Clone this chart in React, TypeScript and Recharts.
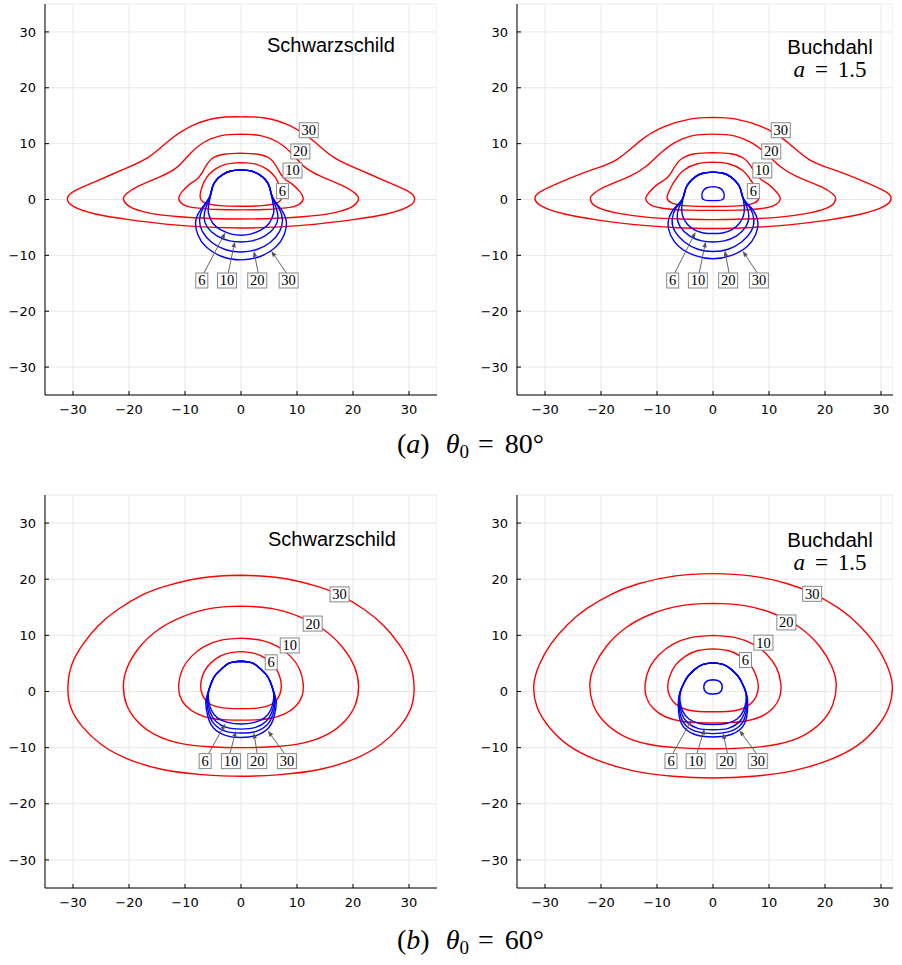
import React from 'react'
import {
  ComposedChart,
  Line,
  XAxis,
  YAxis,
  CartesianGrid,
  ReferenceDot,
  ReferenceLine,
} from 'recharts'

type Pt = [number, number]
type Tag = [number, number, string]
type Arrow = [number, number, number, number]

const axisTicks = [-30, -20, -10, 0, 10, 20, 30]

// (a) theta0 = 80deg, Schwarzschild — direct images (red)
const sch80Red30: Pt[] = [[0,14.8],[4.3,14.6],[8.8,13.2],[12.8,10.6],[16.5,7.6],[21,5.4],[26,3.2],[29.8,1.5],[31,0.2],[30,-1.2],[26,-2.6],[20,-3.6],[13.5,-4.4],[7,-4.9],[0,-5.1],[-7,-4.9],[-13.5,-4.4],[-20,-3.6],[-26,-2.6],[-30,-1.2],[-31,0.2],[-29.8,1.5],[-26,3.2],[-21,5.4],[-16.5,7.6],[-12.8,10.6],[-8.8,13.2],[-4.3,14.6],[0,14.8]]
const sch80Red20: Pt[] = [[0,11.7],[3.7,11.4],[6.7,10.2],[9.1,8.2],[11.4,5.8],[14.4,4.1],[18.5,2.3],[20.5,1.0],[21,0.2],[20,-1.2],[16.5,-2.4],[11,-3.1],[5.5,-3.4],[0,-3.5],[-5.5,-3.4],[-11,-3.1],[-16.5,-2.4],[-20,-1.2],[-21,0.2],[-20.5,1.0],[-18.5,2.3],[-14.4,4.1],[-11.4,5.8],[-9.1,8.2],[-6.7,10.2],[-3.7,11.4],[0,11.7]]
const sch80Red10: Pt[] = [[0,8.3],[3,8.1],[5.2,7.3],[6.5,5.6],[7.6,3.9],[9.2,2.7],[10.5,1.4],[11.1,0.2],[10.3,-0.9],[8,-1.5],[4,-1.8],[0,-1.85],[-4,-1.8],[-8,-1.5],[-10.3,-0.9],[-11.1,0.2],[-10.5,1.4],[-9.2,2.7],[-7.6,3.9],[-6.5,5.6],[-5.2,7.3],[-3,8.1],[0,8.3]]
const sch80Red6: Pt[] = [[0,6.6],[2.8,6.3],[4.8,5.3],[6.1,4.0],[6.9,2.4],[7.3,0.8],[7.1,-0.1],[6.2,-0.7],[3.8,-1.1],[0,-1.2],[-3.8,-1.1],[-6.2,-0.7],[-7.1,-0.1],[-7.3,0.8],[-6.9,2.4],[-6.1,4.0],[-4.8,5.3],[-2.8,6.3],[0,6.6]]
// secondary images (blue)
const sch80Blue6: Pt[] = [[0,5.3],[1.8,5.1],[3.2,4.5],[4.4,3.5],[5.1,2.2],[5.5,0.6],[5.8,-1.3],[5.8,-2.5],[5.0,-4.3],[3.5,-5.5],[1.7,-6.2],[0,-6.4],[-1.7,-6.2],[-3.5,-5.5],[-5.0,-4.3],[-5.8,-2.5],[-5.8,-1.3],[-5.5,0.6],[-5.1,2.2],[-4.4,3.5],[-3.2,4.5],[-1.8,5.1],[0,5.3]]
const sch80Blue10: Pt[] = [[0,5.3],[1.8,5.1],[3.2,4.5],[4.4,3.5],[5.1,2.2],[5.5,0.5],[6.2,-1.3],[6.6,-3.1],[6.05,-4.9],[4.3,-6.5],[2.0,-7.4],[0,-7.6],[-2.0,-7.4],[-4.3,-6.5],[-6.05,-4.9],[-6.6,-3.1],[-6.2,-1.3],[-5.5,0.5],[-5.1,2.2],[-4.4,3.5],[-3.2,4.5],[-1.8,5.1],[0,5.3]]
const sch80Blue20: Pt[] = [[0,5.3],[1.8,5.1],[3.2,4.5],[4.4,3.5],[5.1,2.2],[5.6,0.4],[6.8,-1.6],[7.4,-3.6],[6.9,-5.7],[5.2,-7.7],[2.7,-9.0],[0,-9.4],[-2.7,-9.0],[-5.2,-7.7],[-6.9,-5.7],[-7.4,-3.6],[-6.8,-1.6],[-5.6,0.4],[-5.1,2.2],[-4.4,3.5],[-3.2,4.5],[-1.8,5.1],[0,5.3]]
const sch80Blue30: Pt[] = [[0,5.3],[1.8,5.1],[3.2,4.5],[4.4,3.5],[5.1,2.2],[5.7,0.3],[7.2,-1.8],[8.1,-4.0],[7.7,-6.3],[6.3,-8.4],[3.4,-10.2],[0,-10.8],[-3.4,-10.2],[-6.3,-8.4],[-7.7,-6.3],[-8.1,-4.0],[-7.2,-1.8],[-5.7,0.3],[-5.1,2.2],[-4.4,3.5],[-3.2,4.5],[-1.8,5.1],[0,5.3]]
const sch80RedTags: Tag[] = [[12.1,12.4,'30'],[10.6,8.6,'20'],[9.2,5.2,'10'],[7.4,1.5,'6']]
const sch80BlueTags: Tag[] = [[-7.0,-14.5,'6'],[-2.5,-14.5,'10'],[2.9,-14.5,'20'],[8.5,-14.5,'30']]
const sch80Arrows: Arrow[] = [[-6.7,-13.3,-2.8,-5.9],[-2.3,-13.3,-1.1,-7.5],[3.1,-13.3,2.3,-9.2],[8.2,-13.3,5.4,-9.2]]

// (a) theta0 = 80deg, Buchdahl a = 1.5
const buch80Red30: Pt[] = [[0,14.7],[4.1,14.4],[8.8,13.0],[13,10.5],[17.1,7.2],[21.9,5.2],[27.2,3.1],[30.8,1.4],[31.8,0.2],[30.6,-1.2],[26.5,-2.6],[20.5,-3.7],[14,-4.5],[7,-5.0],[0,-5.2],[-7,-5.0],[-14,-4.5],[-20.5,-3.7],[-26.5,-2.6],[-30.6,-1.2],[-31.8,0.2],[-30.8,1.4],[-27.2,3.1],[-21.9,5.2],[-17.1,7.2],[-13,10.5],[-8.8,13.0],[-4.1,14.4],[0,14.7]]
const buch80Red20: Pt[] = [[0,11.7],[3.8,11.4],[7,10.1],[9.5,8.2],[12,5.9],[15,4.1],[19.3,2.3],[21.4,1.0],[21.9,0.2],[21,-1.2],[17.3,-2.4],[11.5,-3.2],[5.8,-3.5],[0,-3.6],[-5.8,-3.5],[-11.5,-3.2],[-17.3,-2.4],[-21,-1.2],[-21.9,0.2],[-21.4,1.0],[-19.3,2.3],[-15,4.1],[-12,5.9],[-9.5,8.2],[-7,10.1],[-3.8,11.4],[0,11.7]]
const buch80Red10: Pt[] = [[0,8.4],[3.2,8.2],[5.6,7.3],[7.0,5.6],[8.2,3.9],[9.9,2.7],[11.3,1.4],[12,0.2],[11.2,-0.9],[8.7,-1.6],[4.4,-1.9],[0,-1.95],[-4.4,-1.9],[-8.7,-1.6],[-11.2,-0.9],[-12,0.2],[-11.3,1.4],[-9.9,2.7],[-8.2,3.9],[-7.0,5.6],[-5.6,7.3],[-3.2,8.2],[0,8.4]]
const buch80Red6: Pt[] = [[0,6.7],[2.8,6.4],[5.3,5.2],[6.5,3.8],[7.3,2.6],[8.0,1.1],[8.2,0.3],[7.4,-0.6],[4.5,-1.15],[0,-1.25],[-4.5,-1.15],[-7.4,-0.6],[-8.2,0.3],[-8.0,1.1],[-7.3,2.6],[-6.5,3.8],[-5.3,5.2],[-2.8,6.4],[0,6.7]]
const buch80Blue6: Pt[] = [[0,4.9],[1.8,4.7],[3.1,4.1],[4.2,3.1],[4.9,1.9],[5.3,0.5],[5.5,-0.6],[5.6,-1.8],[5.4,-3.0],[4.7,-4.3],[3.4,-5.4],[1.7,-6.0],[0,-6.1],[-1.7,-6.0],[-3.4,-5.4],[-4.7,-4.3],[-5.4,-3.0],[-5.6,-1.8],[-5.5,-0.6],[-5.3,0.5],[-4.9,1.9],[-4.2,3.1],[-3.1,4.1],[-1.8,4.7],[0,4.9]]
const buch80Blue10: Pt[] = [[0,4.9],[1.8,4.7],[3.1,4.1],[4.2,3.1],[4.9,1.9],[5.3,0.4],[6.0,-1.2],[6.4,-3.0],[5.9,-4.8],[4.2,-6.5],[2.0,-7.4],[0,-7.6],[-2.0,-7.4],[-4.2,-6.5],[-5.9,-4.8],[-6.4,-3.0],[-6.0,-1.2],[-5.3,0.4],[-4.9,1.9],[-4.2,3.1],[-3.1,4.1],[-1.8,4.7],[0,4.9]]
const buch80Blue20: Pt[] = [[0,4.9],[1.8,4.7],[3.1,4.1],[4.2,3.1],[4.9,1.9],[5.4,0.2],[6.6,-1.5],[7.3,-3.6],[6.8,-5.7],[5.1,-7.6],[2.7,-8.9],[0,-9.3],[-2.7,-8.9],[-5.1,-7.6],[-6.8,-5.7],[-7.3,-3.6],[-6.6,-1.5],[-5.4,0.2],[-4.9,1.9],[-4.2,3.1],[-3.1,4.1],[-1.8,4.7],[0,4.9]]
const buch80Blue30: Pt[] = [[0,4.9],[1.8,4.7],[3.1,4.1],[4.2,3.1],[4.9,1.9],[5.5,0],[7.0,-1.7],[8.0,-4.0],[7.6,-6.3],[6.1,-8.4],[3.3,-10.0],[0,-10.6],[-3.3,-10.0],[-6.1,-8.4],[-7.6,-6.3],[-8.0,-4.0],[-7.0,-1.7],[-5.5,0],[-4.9,1.9],[-4.2,3.1],[-3.1,4.1],[-1.8,4.7],[0,4.9]]
const buch80BlueInner: Pt[] = [[0,2.3],[1.1,2.1],[1.8,1.5],[2.0,0.6],[1.7,0],[0.9,-0.2],[0,-0.2],[-0.9,-0.2],[-1.7,0],[-2.0,0.6],[-1.8,1.5],[-1.1,2.1],[0,2.3]]
const buch80RedTags: Tag[] = [[12.1,12.4,'30'],[10.4,8.6,'20'],[8.8,5.2,'10'],[7.2,1.5,'6']]
const buch80BlueTags: Tag[] = [[-7.2,-14.5,'6'],[-2.7,-14.5,'10'],[2.7,-14.5,'20'],[8.2,-14.5,'30']]
const buch80Arrows: Arrow[] = [[-6.9,-13.3,-3.1,-5.8],[-2.5,-13.3,-1.3,-7.5],[2.9,-13.3,2.1,-9.1],[8.0,-13.3,5.3,-9.2]]

// (b) theta0 = 60deg, Schwarzschild
const sch60Red30: Pt[] = [[0,20.7],[6.5,20.3],[13,18.9],[17.6,17.2],[22,14.6],[25.5,11.7],[28.3,8.3],[30.2,4.8],[30.9,1],[30.4,-2.8],[28.3,-6.3],[25,-9.4],[20.5,-11.9],[14,-13.9],[7,-14.8],[0,-15.1],[-7,-14.8],[-14,-13.9],[-20.5,-11.9],[-25,-9.4],[-28.3,-6.3],[-30.4,-2.8],[-30.9,1],[-30.2,4.8],[-28.3,8.3],[-25.5,11.7],[-22,14.6],[-17.6,17.2],[-13,18.9],[-6.5,20.3],[0,20.7]]
const sch60Red20: Pt[] = [[0,15.2],[5.4,14.8],[10.5,13.3],[14.8,11.0],[18.2,7.8],[20.3,4.3],[21,0.9],[20.4,-2.4],[18.6,-5.2],[15.5,-7.6],[11,-9.2],[5.6,-9.85],[0,-10.0],[-5.6,-9.85],[-11,-9.2],[-15.5,-7.6],[-18.6,-5.2],[-20.4,-2.4],[-21,0.9],[-20.3,4.3],[-18.2,7.8],[-14.8,11.0],[-10.5,13.3],[-5.4,14.8],[0,15.2]]
const sch60Red10: Pt[] = [[0,9.5],[3.7,9.1],[6.6,8.0],[8.8,6.3],[10.4,4.1],[11.1,1.5],[10.9,-0.8],[9.8,-2.6],[7.8,-4.0],[5.2,-4.8],[2.6,-5.05],[0,-5.1],[-2.6,-5.05],[-5.2,-4.8],[-7.8,-4.0],[-9.8,-2.6],[-10.9,-0.8],[-11.1,1.5],[-10.4,4.1],[-8.8,6.3],[-6.6,8.0],[-3.7,9.1],[0,9.5]]
const sch60Red6: Pt[] = [[0,7.1],[2.4,6.8],[4.4,5.9],[6,4.4],[6.9,2.7],[7.2,1.0],[6.9,-0.6],[6,-1.9],[4.4,-2.7],[2.3,-3.0],[0,-3.05],[-2.3,-3.0],[-4.4,-2.7],[-6,-1.9],[-6.9,-0.6],[-7.2,1.0],[-6.9,2.7],[-6,4.4],[-4.4,5.9],[-2.4,6.8],[0,7.1]]
const sch60Blue6: Pt[] = [[0,5.4],[2.0,5.1],[3.4,4.1],[4.5,3.0],[5.2,1.8],[5.75,0.1],[5.8,-1.5],[5.3,-3.3],[4.2,-4.7],[2.4,-5.5],[0,-5.8],[-2.4,-5.5],[-4.2,-4.7],[-5.3,-3.3],[-5.8,-1.5],[-5.75,0.1],[-5.2,1.8],[-4.5,3.0],[-3.4,4.1],[-2.0,5.1],[0,5.4]]
const sch60Blue10: Pt[] = [[0,5.4],[2.0,5.1],[3.4,4.1],[4.5,3.0],[5.2,1.8],[5.8,0],[5.95,-1.7],[5.5,-3.7],[4.5,-5.3],[2.6,-6.4],[0,-6.7],[-2.6,-6.4],[-4.5,-5.3],[-5.5,-3.7],[-5.95,-1.7],[-5.8,0],[-5.2,1.8],[-4.5,3.0],[-3.4,4.1],[-2.0,5.1],[0,5.4]]
const sch60Blue20: Pt[] = [[0,5.4],[2.0,5.1],[3.4,4.1],[4.5,3.0],[5.2,1.8],[5.85,-0.1],[6.1,-1.9],[5.7,-4.1],[4.7,-5.9],[2.7,-7.1],[0,-7.4],[-2.7,-7.1],[-4.7,-5.9],[-5.7,-4.1],[-6.1,-1.9],[-5.85,-0.1],[-5.2,1.8],[-4.5,3.0],[-3.4,4.1],[-2.0,5.1],[0,5.4]]
const sch60Blue30: Pt[] = [[0,5.4],[2.0,5.1],[3.4,4.1],[4.5,3.0],[5.2,1.8],[5.9,-0.2],[6.3,-2.0],[5.9,-4.5],[4.9,-6.5],[2.8,-7.8],[0,-8.2],[-2.8,-7.8],[-4.9,-6.5],[-5.9,-4.5],[-6.3,-2.0],[-5.9,-0.2],[-5.2,1.8],[-4.5,3.0],[-3.4,4.1],[-2.0,5.1],[0,5.4]]
const sch60RedTags: Tag[] = [[17.6,17.3,'30'],[12.8,12.1,'20'],[8.7,8.2,'10'],[5.4,5.2,'6']]
const sch60BlueTags: Tag[] = [[-6.4,-12.4,'6'],[-1.8,-12.4,'10'],[2.9,-12.4,'20'],[8.2,-12.4,'30']]
const sch60Arrows: Arrow[] = [[-5.8,-11.1,-2.8,-5.7],[-2.0,-11.1,-0.9,-7.0],[2.9,-11.1,2.3,-7.3],[7.8,-11.1,4.8,-7.0]]

// (b) theta0 = 60deg, Buchdahl a = 1.5
const buch60Red30: Pt[] = [[0,21],[6.7,20.6],[13.3,19.2],[18,17.4],[22.5,14.8],[26,11.9],[29,8.4],[31,4.8],[32,1.2],[31.4,-2.8],[29.2,-6.4],[25.8,-9.6],[21,-12.1],[14.4,-14.1],[7.2,-15.1],[0,-15.4],[-7.2,-15.1],[-14.4,-14.1],[-21,-12.1],[-25.8,-9.6],[-29.2,-6.4],[-31.4,-2.8],[-32,1.2],[-31,4.8],[-29,8.4],[-26,11.9],[-22.5,14.8],[-18,17.4],[-13.3,19.2],[-6.7,20.6],[0,21]]
const buch60Red20: Pt[] = [[0,15.7],[5.7,15.3],[11,13.8],[15.5,11.4],[19,8.1],[21.2,4.5],[22,1.2],[21.4,-2.3],[19.5,-5.3],[16.2,-7.8],[11.5,-9.4],[5.8,-10.05],[0,-10.2],[-5.8,-10.05],[-11.5,-9.4],[-16.2,-7.8],[-19.5,-5.3],[-21.4,-2.3],[-22,1.2],[-21.2,4.5],[-19,8.1],[-15.5,11.4],[-11,13.8],[-5.7,15.3],[0,15.7]]
const buch60Red10: Pt[] = [[0,10],[4,9.6],[7.2,8.4],[9.6,6.6],[11.3,4.3],[12.1,1.5],[11.9,-1.0],[10.7,-3.0],[8.5,-4.5],[5.6,-5.3],[2.8,-5.55],[0,-5.6],[-2.8,-5.55],[-5.6,-5.3],[-8.5,-4.5],[-10.7,-3.0],[-11.9,-1.0],[-12.1,1.5],[-11.3,4.3],[-9.6,6.6],[-7.2,8.4],[-4,9.6],[0,10]]
const buch60Red6: Pt[] = [[0,7.6],[2.7,7.3],[4.9,6.3],[6.7,4.7],[7.7,2.8],[8.1,0.9],[7.7,-0.9],[6.6,-2.3],[4.8,-3.2],[2.5,-3.55],[0,-3.6],[-2.5,-3.55],[-4.8,-3.2],[-6.6,-2.3],[-7.7,-0.9],[-8.1,0.9],[-7.7,2.8],[-6.7,4.7],[-4.9,6.3],[-2.7,7.3],[0,7.6]]
const buch60Blue6: Pt[] = [[0,5.1],[1.9,4.8],[3.3,3.9],[4.4,2.8],[5.1,1.7],[5.8,0],[5.9,-1.7],[5.4,-3.5],[4.3,-4.9],[2.4,-5.7],[0,-5.9],[-2.4,-5.7],[-4.3,-4.9],[-5.4,-3.5],[-5.9,-1.7],[-5.8,0],[-5.1,1.7],[-4.4,2.8],[-3.3,3.9],[-1.9,4.8],[0,5.1]]
const buch60Blue10: Pt[] = [[0,5.1],[1.9,4.8],[3.3,3.9],[4.4,2.8],[5.1,1.7],[5.85,-0.1],[6.0,-1.9],[5.6,-3.9],[4.6,-5.5],[2.6,-6.6],[0,-6.8],[-2.6,-6.6],[-4.6,-5.5],[-5.6,-3.9],[-6.0,-1.9],[-5.85,-0.1],[-5.1,1.7],[-4.4,2.8],[-3.3,3.9],[-1.9,4.8],[0,5.1]]
const buch60Blue20: Pt[] = [[0,5.1],[1.9,4.8],[3.3,3.9],[4.4,2.8],[5.1,1.7],[5.9,-0.2],[6.1,-2.1],[5.8,-4.3],[4.8,-6.1],[2.7,-7.2],[0,-7.5],[-2.7,-7.2],[-4.8,-6.1],[-5.8,-4.3],[-6.1,-2.1],[-5.9,-0.2],[-5.1,1.7],[-4.4,2.8],[-3.3,3.9],[-1.9,4.8],[0,5.1]]
const buch60Blue30: Pt[] = [[0,5.1],[1.9,4.8],[3.3,3.9],[4.4,2.8],[5.1,1.7],[5.95,-0.3],[6.2,-2.2],[6.0,-4.6],[5.0,-6.6],[2.8,-7.8],[0,-8.1],[-2.8,-7.8],[-5.0,-6.6],[-6.0,-4.6],[-6.2,-2.2],[-5.95,-0.3],[-5.1,1.7],[-4.4,2.8],[-3.3,3.9],[-1.9,4.8],[0,5.1]]
const buch60BlueInner: Pt[] = [[0,2.1],[1.1,1.85],[1.65,0.8],[1.1,-0.25],[0,-0.45],[-1.1,-0.25],[-1.65,0.8],[-1.1,1.85],[0,2.1]]
const buch60RedTags: Tag[] = [[17.7,17.4,'30'],[13.1,12.3,'20'],[9.0,8.7,'10'],[5.8,5.6,'6']]
const buch60BlueTags: Tag[] = [[-7.5,-12.4,'6'],[-3.1,-12.4,'10'],[2.4,-12.4,'20'],[8.0,-12.4,'30']]
const buch60Arrows: Arrow[] = [[-7.2,-11.1,-3.8,-5.0],[-2.9,-11.1,-1.5,-6.6],[2.6,-11.1,1.8,-7.4],[7.8,-11.1,4.7,-6.9]]

const RED = '#ff0000'
const BLUE = '#0000ff'

const rows = (pts: Pt[]) => pts.map(([x, y]) => ({ x, y }))
const fmt = (v: number) => (v < 0 ? '\u2212' + Math.abs(v) : String(v))
const tickStyle = { fill: '#000', fontSize: 13, fontFamily: 'DejaVu Sans, sans-serif' }

const tagShape = (text: string) => (props: any) => {
  const { cx, cy } = props
  const w = text.length > 1 ? 19 : 12
  return (
    <g>
      <rect x={cx - w / 2} y={cy - 7.5} width={w} height={15} fill="#fff" stroke="#888" strokeWidth={1} />
      <text x={cx} y={cy + 5} textAnchor="middle" fontFamily="Liberation Serif, serif" fontSize={14.5} fill="#000">
        {text}
      </text>
    </g>
  )
}

const arrowShape = (props: any) => {
  const { x1, y1, x2, y2 } = props
  const a = Math.atan2(y2 - y1, x2 - x1)
  const bx = x2 - 6 * Math.cos(a)
  const by = y2 - 6 * Math.sin(a)
  const nx = 2.2 * Math.sin(a)
  const ny = 2.2 * Math.cos(a)
  return (
    <g>
      <line x1={x1} y1={y1} x2={bx} y2={by} stroke="#555" strokeWidth={0.9} />
      <polygon points={`${x2},${y2} ${bx + nx},${by - ny} ${bx - nx},${by + ny}`} fill="#555" />
    </g>
  )
}

interface PanelProps {
  left: number
  top: number
  width: number
  height: number
  xDomain: [number, number]
  red: Pt[][]
  blue: Pt[][]
  redTags: Tag[]
  blueTags: Tag[]
  arrows: Arrow[]
}

function Panel({ left, top, width, height, xDomain, red, blue, redTags, blueTags, arrows }: PanelProps) {
  return (
    <div style={{ position: 'absolute', left, top }}>
      <ComposedChart width={width} height={height} margin={{ top: 4, right: 0, bottom: 0, left: 0 }}>
        <CartesianGrid stroke="#e8e8e8" />
        <XAxis
          type="number"
          dataKey="x"
          domain={xDomain}
          ticks={axisTicks}
          interval={0}
          allowDataOverflow
          height={30}
          stroke="#000"
          tickSize={-4}
          tickMargin={14}
          tick={tickStyle}
          tickFormatter={fmt}
        />
        <YAxis
          type="number"
          dataKey="y"
          domain={[-35, 35]}
          ticks={axisTicks}
          interval={0}
          allowDataOverflow
          width={37}
          stroke="#000"
          tickSize={-4}
          tickMargin={13}
          tick={tickStyle}
          tickFormatter={fmt}
        />
        {red.map((c, i) => (
          <Line key={'r' + i} data={rows(c)} dataKey="y" type="natural" stroke={RED} strokeWidth={1.4}
            dot={false} activeDot={false} isAnimationActive={false} />
        ))}
        {blue.map((c, i) => (
          <Line key={'b' + i} data={rows(c)} dataKey="y" type="natural" stroke={BLUE} strokeWidth={1.4}
            dot={false} activeDot={false} isAnimationActive={false} />
        ))}
        {arrows.map(([sx, sy, tx, ty], i) => (
          <ReferenceLine key={'a' + i} segment={[{ x: sx, y: sy }, { x: tx, y: ty }]} shape={arrowShape} />
        ))}
        {[...redTags, ...blueTags].map(([x, y, t], i) => (
          <ReferenceDot key={'t' + i} x={x} y={y} r={1} shape={tagShape(t)} />
        ))}
      </ComposedChart>
    </div>
  )
}

const serif = 'Liberation Serif, serif'
const sans = 'Liberation Sans, Arial, sans-serif'

function Caption({ y, letter, angle }: { y: number; letter: string; angle: string }) {
  return (
    <text x={397} y={y} fontFamily={serif} fontSize={28} fill="#000">
      <tspan>(</tspan>
      <tspan fontStyle="italic">{letter}</tspan>
      <tspan>)</tspan>
      <tspan dx={16} fontStyle="italic">θ</tspan>
      <tspan dy={5} fontSize={19}>0</tspan>
      <tspan dy={-5} dx={9}>=</tspan>
      <tspan dx={11}>{angle}</tspan>
    </text>
  )
}

function BuchTitle({ y }: { y: number }) {
  return (
    <g>
      <text x={830} y={y} textAnchor="middle" fontFamily={sans} fontSize={20.5} fill="#000">Buchdahl</text>
      <text x={830} y={y + 23} textAnchor="middle" fontFamily={serif} fontSize={23} fill="#000">
        <tspan fontStyle="italic">a</tspan>
        <tspan dx={10}>=</tspan>
        <tspan dx={10}>1.5</tspan>
      </text>
    </g>
  )
}

export default function App() {
  return (
    <div style={{ position: 'absolute', left: 0, top: 0, width: 902, height: 965, overflow: 'hidden', background: '#fff' }}>
      <Panel left={8} top={0} width={429} height={425} xDomain={[-35, 35]}
        red={[sch80Red30, sch80Red20, sch80Red10, sch80Red6]}
        blue={[sch80Blue30, sch80Blue20, sch80Blue10, sch80Blue6]}
        redTags={sch80RedTags} blueTags={sch80BlueTags} arrows={sch80Arrows} />
      <Panel left={480} top={0} width={413} height={425} xDomain={[-35, 32.14]}
        red={[buch80Red30, buch80Red20, buch80Red10, buch80Red6]}
        blue={[buch80Blue30, buch80Blue20, buch80Blue10, buch80Blue6, buch80BlueInner]}
        redTags={buch80RedTags} blueTags={buch80BlueTags} arrows={buch80Arrows} />
      <Panel left={8} top={491} width={429} height={427} xDomain={[-35, 35]}
        red={[sch60Red30, sch60Red20, sch60Red10, sch60Red6]}
        blue={[sch60Blue30, sch60Blue20, sch60Blue10, sch60Blue6]}
        redTags={sch60RedTags} blueTags={sch60BlueTags} arrows={sch60Arrows} />
      <Panel left={480} top={491} width={413} height={427} xDomain={[-35, 32.14]}
        red={[buch60Red30, buch60Red20, buch60Red10, buch60Red6]}
        blue={[buch60Blue30, buch60Blue20, buch60Blue10, buch60Blue6, buch60BlueInner]}
        redTags={buch60RedTags} blueTags={buch60BlueTags} arrows={buch60Arrows} />
      <svg width={902} height={965} style={{ position: 'absolute', left: 0, top: 0, pointerEvents: 'none' }}>
        <text x={267} y={52} fontFamily={sans} fontSize={20} fill="#000">Schwarzschild</text>
        <text x={268} y={546} fontFamily={sans} fontSize={20} fill="#000">Schwarzschild</text>
        <BuchTitle y={54} />
        <BuchTitle y={547} />
        <Caption y={453} letter="a" angle="80°" />
        <Caption y={949} letter="b" angle="60°" />
      </svg>
    </div>
  )
}
